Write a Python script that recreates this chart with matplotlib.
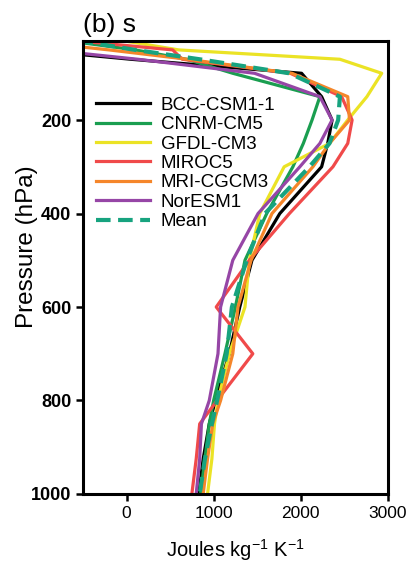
import numpy as np
import matplotlib.pyplot as plt

plt.rcParams['font.family'] = ['Liberation Sans', 'DejaVu Sans']
plt.rcParams['mathtext.default'] = 'regular'

# pressure levels (hPa)
niveaux = [30, 50, 70, 100, 150, 200, 250, 300, 400, 500, 600, 700, 800, 850, 925, 1000]

bcc = [-1800, -1100, 50, 2010, 2240, 2360, 2310, 2240, 1760, 1440, 1300, 1180, 1020, 950, 880, 830]
cnrm = [-700, 100, 690, 1220, 2220, 2130, 2030, 1910, 1610, 1360, 1250, 1130, 1000, 950, 900, 850]
gfdl = [-50, 600, 2450, 2930, 2760, 2540, 2330, 1810, 1530, 1410, 1360, 1180, 1050, 1010, 980, 930]
miroc = [-600, 530, 640, 1880, 2470, 2590, 2540, 2370, 1870, 1410, 1030, 1450, 1040, 840, 800, 750]
mri = [-1200, -200, 700, 1900, 2540, 2560, 2330, 2140, 1670, 1430, 1280, 1220, 1080, 990, 930, 880]
noresm = [-2000, -900, 130, 1470, 2220, 2360, 2220, 1990, 1510, 1220, 1080, 1050, 950, 860, 840, 800]
moyenne = [-550, 100, 840, 1870, 2450, 2430, 2330, 2100, 1590, 1380, 1210, 1150, 1040, 980, 900, 840]

modeles = ['BCC-CSM1-1', 'CNRM-CM5', 'GFDL-CM3', 'MIROC5', 'MRI-CGCM3', 'NorESM1']
couleurs = ['black', '#1a9e50', '#ebe325', '#f04a4a', '#f5862a', '#9646a6']
series = [bcc, cnrm, gfdl, miroc, mri, noresm]

fig = plt.figure(figsize=(4.17, 5.65), dpi=100)
ax = fig.add_axes([0.199, 0.1257, 0.731, 0.8025])

for nom, coul, s in zip(modeles, couleurs, series):
    ax.plot(s, niveaux, color=coul, lw=2.3, label=nom)
ax.plot(moyenne, niveaux, color='#17a37f', lw=3.0, dashes=(3.5, 1.8), label='Mean')

ax.set_xlim(-500, 3000)
ax.set_ylim(1000, 30)
ax.set_xticks([0, 1000, 2000, 3000])
ax.set_yticks([200, 400, 600, 800, 1000])
ax.tick_params(width=1.8, length=5)
ax.tick_params(axis='x', labelsize=12.5)
ax.tick_params(axis='y', labelsize=13)
for lab in ax.get_yticklabels():
    lab.set_fontweight('bold')
for sp in ax.spines.values():
    sp.set_linewidth(2.2)

ax.set_xlabel('Joules kg$^{-1}$ K$^{-1}$', fontsize=14.5, labelpad=12)
ax.set_ylabel('Pressure (hPa)', fontsize=17.5)
ax.yaxis.set_label_coords(-0.148, 0.545)
ax.set_title('(b) s', loc='left', fontsize=19, pad=6)

ax.legend(loc='upper left', bbox_to_anchor=(0.0, 0.905), frameon=False, fontsize=13.5,
          handlelength=2.9, labelspacing=0.12, handletextpad=0.55, borderaxespad=0.3)

fig.savefig('out.png', dpi=100)
